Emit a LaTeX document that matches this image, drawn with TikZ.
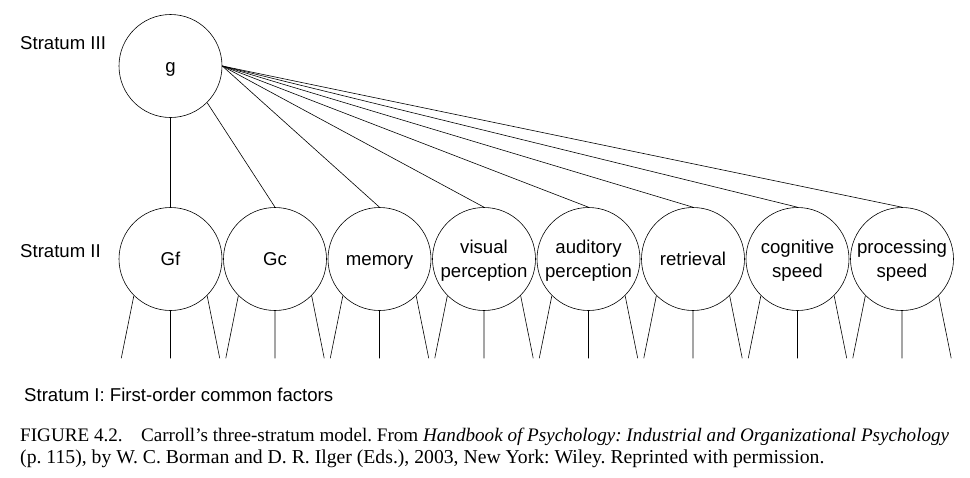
\documentclass[tikz,border=0pt]{standalone}
\usepackage{fontspec}
\setmainfont{Liberation Serif}
\setsansfont{Liberation Sans}
\begin{document}
\begin{tikzpicture}[x=1pt,y=-1pt,
fac/.style={%
circle,
draw,
line width=0.6pt,
minimum size=103pt,
inner sep=0pt,
align=center,
text depth=0pt,
font=\sffamily\fontsize{18.6}{24}\selectfont
},
one/.style={%
text height=13.4pt
},
lbl/.style={%
anchor=base west,
inner sep=0pt,
font=\sffamily\fontsize{18.6}{24}\selectfont
},
capline/.style={%
anchor=base west,
inner sep=0pt,
font=\frenchspacing\fontsize{19.7}{22}\selectfont
},
lnk/.style={line width=0.6pt},
]
\useasboundingbox(0,0)rectangle(970,477);
%%Stratum III
\node[lbl](s3)at(20,49){Stratum III};
\node[fac,one](g)at(170.5,66){g};
%%Stratum II
\node[lbl](s2)at(20,257){Stratum II};
\node[fac,one](gf)at(170.5,259){Gf};
\node[fac,one](gc)at(275,259){Gc};
\node[fac,one](mem)at(379.5,259){memory};
\node[fac](vis)at(484,259){visual\\perception};
\node[fac](aud)at(588.5,259){auditory\\perception};
\node[fac,one](ret)at(693,259){retrieval};
\node[fac](cog)at(797.5,259){cognitive\\speed};
\node[fac](proc)at(902,259){processing\\speed};
%%g to stratum II
\draw[lnk](g.south)--(gf.north);
\draw[lnk](g.-45)--(gc.north);
\draw[lnk](g.east)--(mem.north);
\draw[lnk](g.east)--(vis.north);
\draw[lnk](g.east)--(aud.north);
\draw[lnk](g.east)--(ret.north);
\draw[lnk](g.east)--(cog.north);
\draw[lnk](g.east)--(proc.north);
%%stratum I fans
\foreach \n in {gf,gc,mem,vis,aud,ret,cog,proc}{
\coordinate(\n-l)at([xshift=-12.6pt,yshift=-62.6pt]\n.225);
\coordinate(\n-m)at([yshift=-47.5pt]\n.south);
\coordinate(\n-r)at([xshift=12.6pt,yshift=-62.6pt]\n.-45);
\draw[lnk](\n.225)--(\n-l) (\n.south)--(\n-m) (\n.-45)--(\n-r);
}
%%Stratum I
\node[lbl](s1)at(24,401){Stratum I: First-order common factors};
%%caption
\node[capline](c1)at(20,441){\resizebox{929pt}{!}{FIGURE 4.2.\hspace{19pt}Carroll’s three-stratum model. From \textit{Handbook of Psychology: Industrial and Organizational Psychology}}};
\node[capline](c2)at(20,463){(p. 115), by W. C. Borman and D. R. Ilger (Eds.), 2003, New York: Wiley. Reprinted with permission.};
\end{tikzpicture}
\end{document}
